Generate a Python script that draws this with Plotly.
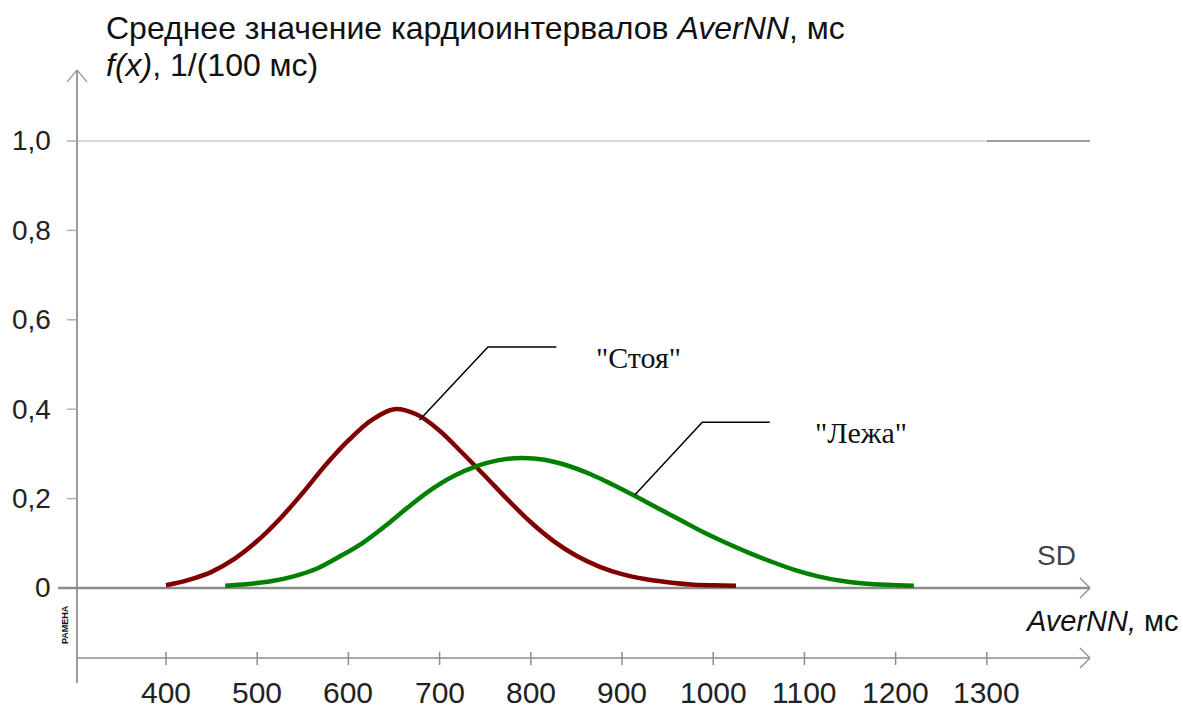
import plotly.graph_objects as go

# ---- data ----
stand_x = [400, 425, 450, 475, 500, 525, 550, 575, 600, 625, 650, 675, 700, 725, 750, 775, 800, 825, 850, 875, 900, 925, 950, 975, 1000, 1025]
stand_y = [0.006, 0.018, 0.036, 0.065, 0.105, 0.155, 0.213, 0.275, 0.33, 0.375, 0.40, 0.388, 0.352, 0.302, 0.25, 0.197, 0.147, 0.105, 0.072, 0.048, 0.031, 0.02, 0.013, 0.008, 0.006, 0.005]

lie_x = [465, 490, 515, 540, 565, 590, 615, 640, 665, 690, 715, 740, 765, 790, 815, 840, 865, 890, 915, 940, 965, 990, 1015, 1040, 1065, 1090, 1115, 1140, 1165, 1190, 1220]
lie_y = [0.005, 0.009, 0.015, 0.026, 0.043, 0.07, 0.10, 0.138, 0.18, 0.219, 0.25, 0.272, 0.286, 0.291, 0.287, 0.274, 0.255, 0.231, 0.205, 0.178, 0.151, 0.124, 0.10, 0.078, 0.058, 0.04, 0.026, 0.016, 0.01, 0.007, 0.005]

x_ticks = [400, 500, 600, 700, 800, 900, 1000, 1100, 1200, 1300]
y_ticks = [0, 0.2, 0.4, 0.6, 0.8, 1.0]
y_tick_labels = ["0", "0,2", "0,4", "0,6", "0,8", "1,0"]

label_stand = '"Стоя"'
label_lie = '"Лежа"'
leader_stand = ([678, 753, 828], [0.376, 0.539, 0.539])
leader_lie = ([914, 988, 1062], [0.208, 0.371, 0.371])

W, H = 1183, 709
X_RANGE = [218.0, 1515.1]
Y_RANGE = [-0.2707, 1.3154]

def px(x):
    return x / W

def py(y):
    return 1 - y / H

FONT = "Liberation Sans, Arial, sans-serif"
SERIF = "Liberation Serif, Times New Roman, serif"
AX = "#8c8c8c"

fig = go.Figure()
fig.add_trace(go.Scatter(x=stand_x, y=stand_y, mode="lines", line=dict(color="#800000", width=4.5, shape="spline"),
                         hoverinfo="skip", showlegend=False))
fig.add_trace(go.Scatter(x=lie_x, y=lie_y, mode="lines", line=dict(color="#008000", width=4.5, shape="spline"),
                         hoverinfo="skip", showlegend=False))
for lx, ly in (leader_stand, leader_lie):
    fig.add_trace(go.Scatter(x=lx, y=ly, mode="lines", line=dict(color="black", width=1.5),
                             hoverinfo="skip", showlegend=False))

shapes = []
def pline(x0, y0, x1, y1, color=AX, width=2):
    shapes.append(dict(type="line", xref="paper", yref="paper", x0=px(x0), y0=py(y0), x1=px(x1), y1=py(y1),
                       line=dict(color=color, width=width), layer="below"))

# gridline at 1.0
pline(77, 141, 987, 141, "#d9d9d9", 2)
pline(987, 141, 1090, 141, "#a0a0a0", 2)
# y axis with arrow
pline(77, 70, 77, 683, "#9a9a9a", 2)
pline(67, 82, 77, 70, "#9a9a9a", 1.2)
pline(87, 82, 77, 70, "#9a9a9a", 1.2)
# x axis at 0 with arrow
pline(58, 588, 1090, 588, AX, 2.5)
pline(1080, 578, 1090, 588, AX, 1.2)
pline(1080, 598, 1090, 588, AX, 1.2)
# lower scale axis with arrow
pline(77, 658, 1090, 658, AX, 1.5)
pline(1080, 648, 1090, 658, AX, 1.2)
pline(1080, 668, 1090, 658, AX, 1.2)

annotations = []
for v, t in zip(y_ticks, y_tick_labels):
    if v > 0:
        shapes.append(dict(type="line", xref="paper", yref="y", x0=px(67), x1=px(77), y0=v, y1=v,
                           line=dict(color="#b0b0b0", width=1.5)))
    annotations.append(dict(x=px(53), xref="paper", y=v, yref="y", text=t, showarrow=False,
                            xanchor="right", yanchor="middle", font=dict(family=FONT, size=28, color="#222")))
for v in x_ticks:
    shapes.append(dict(type="line", xref="x", yref="paper", x0=v, x1=v, y0=py(652), y1=py(665),
                       line=dict(color=AX, width=1.5)))
    annotations.append(dict(x=v, xref="x", y=py(692), yref="paper", text=str(v), showarrow=False,
                            xanchor="center", yanchor="middle", font=dict(family=FONT, size=30, color="#222")))

annotations.append(dict(x=px(104), y=py(28), xref="paper", yref="paper", showarrow=False, xanchor="left",
                        yanchor="middle", text="Среднее значение кардиоинтервалов <i>AverNN</i>, мс",
                        font=dict(family=FONT, size=32, color="#111")))
annotations.append(dict(x=px(104), y=py(65), xref="paper", yref="paper", showarrow=False, xanchor="left",
                        yanchor="middle", text="<i>f(x)</i>, 1/(100 мс)",
                        font=dict(family=FONT, size=32, color="#111")))
annotations.append(dict(x=px(1056), y=py(555), xref="paper", yref="paper", showarrow=False, xanchor="center",
                        yanchor="middle", text="SD", font=dict(family=FONT, size=28, color="#444")))
annotations.append(dict(x=px(1181), y=py(621), xref="paper", yref="paper", showarrow=False, xanchor="right",
                        yanchor="middle", text="<i>AverNN,</i> мс", font=dict(family=FONT, size=29, color="#111")))
annotations.append(dict(x=px(65), y=py(625), xref="paper", yref="paper", showarrow=False, xanchor="center",
                        yanchor="middle", text="<b>РАМЕНА</b>", textangle=-90,
                        font=dict(family=FONT, size=9, color="#111")))
annotations.append(dict(x=px(638), y=py(357), xref="paper", yref="paper", showarrow=False, xanchor="center",
                        yanchor="middle", text=label_stand, font=dict(family=SERIF, size=30, color="#111")))
annotations.append(dict(x=px(861), y=py(432), xref="paper", yref="paper", showarrow=False, xanchor="center",
                        yanchor="middle", text=label_lie, font=dict(family=SERIF, size=30, color="#111")))

fig.update_layout(
    width=W, height=H,
    margin=dict(l=0, r=0, t=0, b=0),
    paper_bgcolor="white", plot_bgcolor="white",
    xaxis=dict(range=X_RANGE, visible=False, fixedrange=True),
    yaxis=dict(range=Y_RANGE, visible=False, fixedrange=True),
    shapes=shapes, annotations=annotations,
)
fig.write_html("out.html", config={"displayModeBar": False},
               post_script="document.body.style.margin='0';document.body.style.padding='0';")
